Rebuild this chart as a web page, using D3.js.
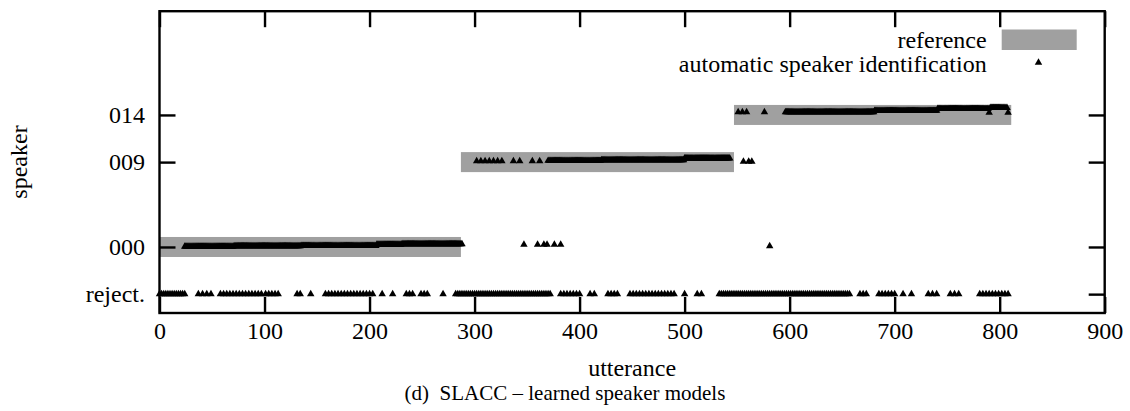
<!DOCTYPE html>
<html><head><meta charset="utf-8">
<script src="https://cdn.jsdelivr.net/npm/d3@7"></script>
<style>
body{margin:0;background:#fff}
svg{display:block}
text{font-family:"Liberation Serif","Times New Roman",Times,serif;fill:#000}
</style>
</head><body>
<svg id="chart" width="1130" height="411"></svg>
<script>
// ---------- data ----------
const xTickValues = [0, 100, 200, 300, 400, 500, 600, 700, 800, 900];
const speakerValues = [-5, 0, 9, 14];
const speakerLabels = ["reject.", "000", "009", "014"];

// reference speaker per utterance span: [speaker value, first utterance, last utterance]
const referenceSpans = [
  [0, 0, 287],
  [9, 287, 547],
  [14, 547, 811]
];

// automatic identification, runs of utterances: [from, to, every]
const rejectRuns = [
  [0,24,2],[37,49,4],[58,98,3],[101,115,3],[131,134,3],[144,144,1],
  [158,203,3],[212,212,1],[222,222,1],[235,241,3],[249,255,3],[270,270,1],
  [282,372,2],[382,400,3],[410,414,4],[427,436,3],[448,491,3],[500,500,1],
  [512,516,4],[533,657,2],[667,673,3],[685,702,3],[708,708,1],[716,716,1],
  [732,740,4],[753,761,4],[781,808,3]
];
// runs assigned to a speaker: [from, to, every, deviation from speaker row]
const speaker000Runs = [
  [24,70,1,0.05],[71,134,1,0.1],[135,206,1,0.13],[207,230,1,0.25],[231,288,1,0.3],
  [347,347,1,0.25],[360,360,1,0.25],[366,366,1,0.25],[369,369,1,0.25],
  [376,376,1,0.25],[382,382,1,0.25],[581,581,1,0.1]
];
const speaker009Runs = [
  [302,327,4,0.1],[337,343,6,0.1],[355,355,1,0.1],[362,362,1,0.1],
  [370,420,1,0.15],[421,499,1,0.22],[500,543,1,0.4],
  [556,556,1,0.05],[561,561,1,0.05],[564,564,1,0.05]
];
const speaker014Runs = [
  [551,560,4,0.3],[576,576,1,0.3],[596,680,1,0.3],[681,740,1,0.45],
  [741,789,1,0.65],[790,790,1,0.25],[791,807,1,0.75],[808,808,1,0.25]
];

const legendLabels = ["reference", "automatic speaker identification"];
const xLabel = "utterance";
const yLabel = "speaker";
const caption = "(d)  SLACC \u2013 learned speaker models";

// ---------- drawing ----------
const svg = d3.select("#chart");
const L = 159.5, R = 1104.7, T = 11.2, B = 313;
const x = d3.scaleLinear().domain([0, 900]).range([L, R]);
const y = d3.scaleLinear().domain([-7, 25]).range([B, T]);
const gray = "#a0a0a0";
const FS = 24;

// reference bands
svg.append("g").selectAll("rect").data(referenceSpans).join("rect")
  .attr("x", d => x(d[1]))
  .attr("width", d => x(d[2]) - x(d[1]))
  .attr("y", d => y(d[0]) - 10)
  .attr("height", 20)
  .attr("fill", gray);

// expand runs into points
function expand(runs, row) {
  const pts = [];
  runs.forEach(r => {
    const lift = r.length > 3 ? r[3] : 0;
    d3.range(r[0], r[1] + 0.5, r[2]).forEach(u => pts.push([u, row + lift]));
  });
  return pts;
}
const points = [].concat(
  expand(rejectRuns, -5),
  expand(speaker000Runs, 0),
  expand(speaker009Runs, 9),
  expand(speaker014Runs, 14)
);
const tri = d3.symbol().type(d3.symbolTriangle).size(24);
svg.append("g").selectAll("path").data(points).join("path")
  .attr("d", tri)
  .attr("transform", d => `translate(${x(d[0])},${y(d[1])})`)
  .attr("fill", "#000");

// axes
const sw = 2.4;
function styleAxis(g) {
  g.select(".domain").remove();
  g.selectAll(".tick line").attr("stroke", "#000").attr("stroke-width", sw);
  g.selectAll(".tick text").attr("font-size", FS).attr("font-family", '"Liberation Serif","Times New Roman",serif').attr("fill", "#000");
}
svg.append("g").attr("transform", `translate(0,${B})`)
  .call(d3.axisBottom(x).tickValues(xTickValues).tickSizeInner(-16).tickSizeOuter(0).tickPadding(9))
  .call(styleAxis);
svg.append("g").attr("transform", `translate(0,${T})`)
  .call(d3.axisTop(x).tickValues(xTickValues).tickSizeInner(-16).tickSizeOuter(0).tickFormat(""))
  .call(styleAxis);
svg.append("g").attr("transform", `translate(${L},0)`)
  .call(d3.axisLeft(y).tickValues(speakerValues).tickSizeInner(-16).tickSizeOuter(0).tickPadding(14.5)
    .tickFormat((d, i) => speakerLabels[i]))
  .call(styleAxis);
svg.append("g").attr("transform", `translate(${R},0)`)
  .call(d3.axisRight(y).tickValues(speakerValues).tickSizeInner(-16).tickSizeOuter(0).tickFormat(""))
  .call(styleAxis);

// frame
svg.append("rect").attr("x", L).attr("y", T).attr("width", R - L).attr("height", B - T)
  .attr("fill", "none").attr("stroke", "#000").attr("stroke-width", sw);

// legend
svg.append("text").attr("x", 986.7).attr("y", 47.7).attr("text-anchor", "end")
  .attr("font-size", FS).text(legendLabels[0]);
svg.append("rect").attr("x", 1001.7).attr("y", 29.5).attr("width", 75).attr("height", 20.5).attr("fill", gray);
svg.append("text").attr("x", 986.7).attr("y", 71.7).attr("text-anchor", "end")
  .attr("font-size", FS).text(legendLabels[1]);
svg.append("path").attr("d", tri).attr("transform", "translate(1038.5,62.5)").attr("fill", "#000");

// axis titles
svg.append("text").attr("transform", "translate(26.5,162) rotate(-90)").attr("text-anchor", "middle")
  .attr("font-size", FS).text(yLabel);
svg.append("text").attr("x", (L + R) / 2).attr("y", 376).attr("text-anchor", "middle")
  .attr("font-size", FS).text(xLabel);
svg.append("text").attr("x", 565).attr("y", 400).attr("text-anchor", "middle")
  .attr("font-size", 21).style("white-space", "pre").text(caption);
</script>
</body></html>
